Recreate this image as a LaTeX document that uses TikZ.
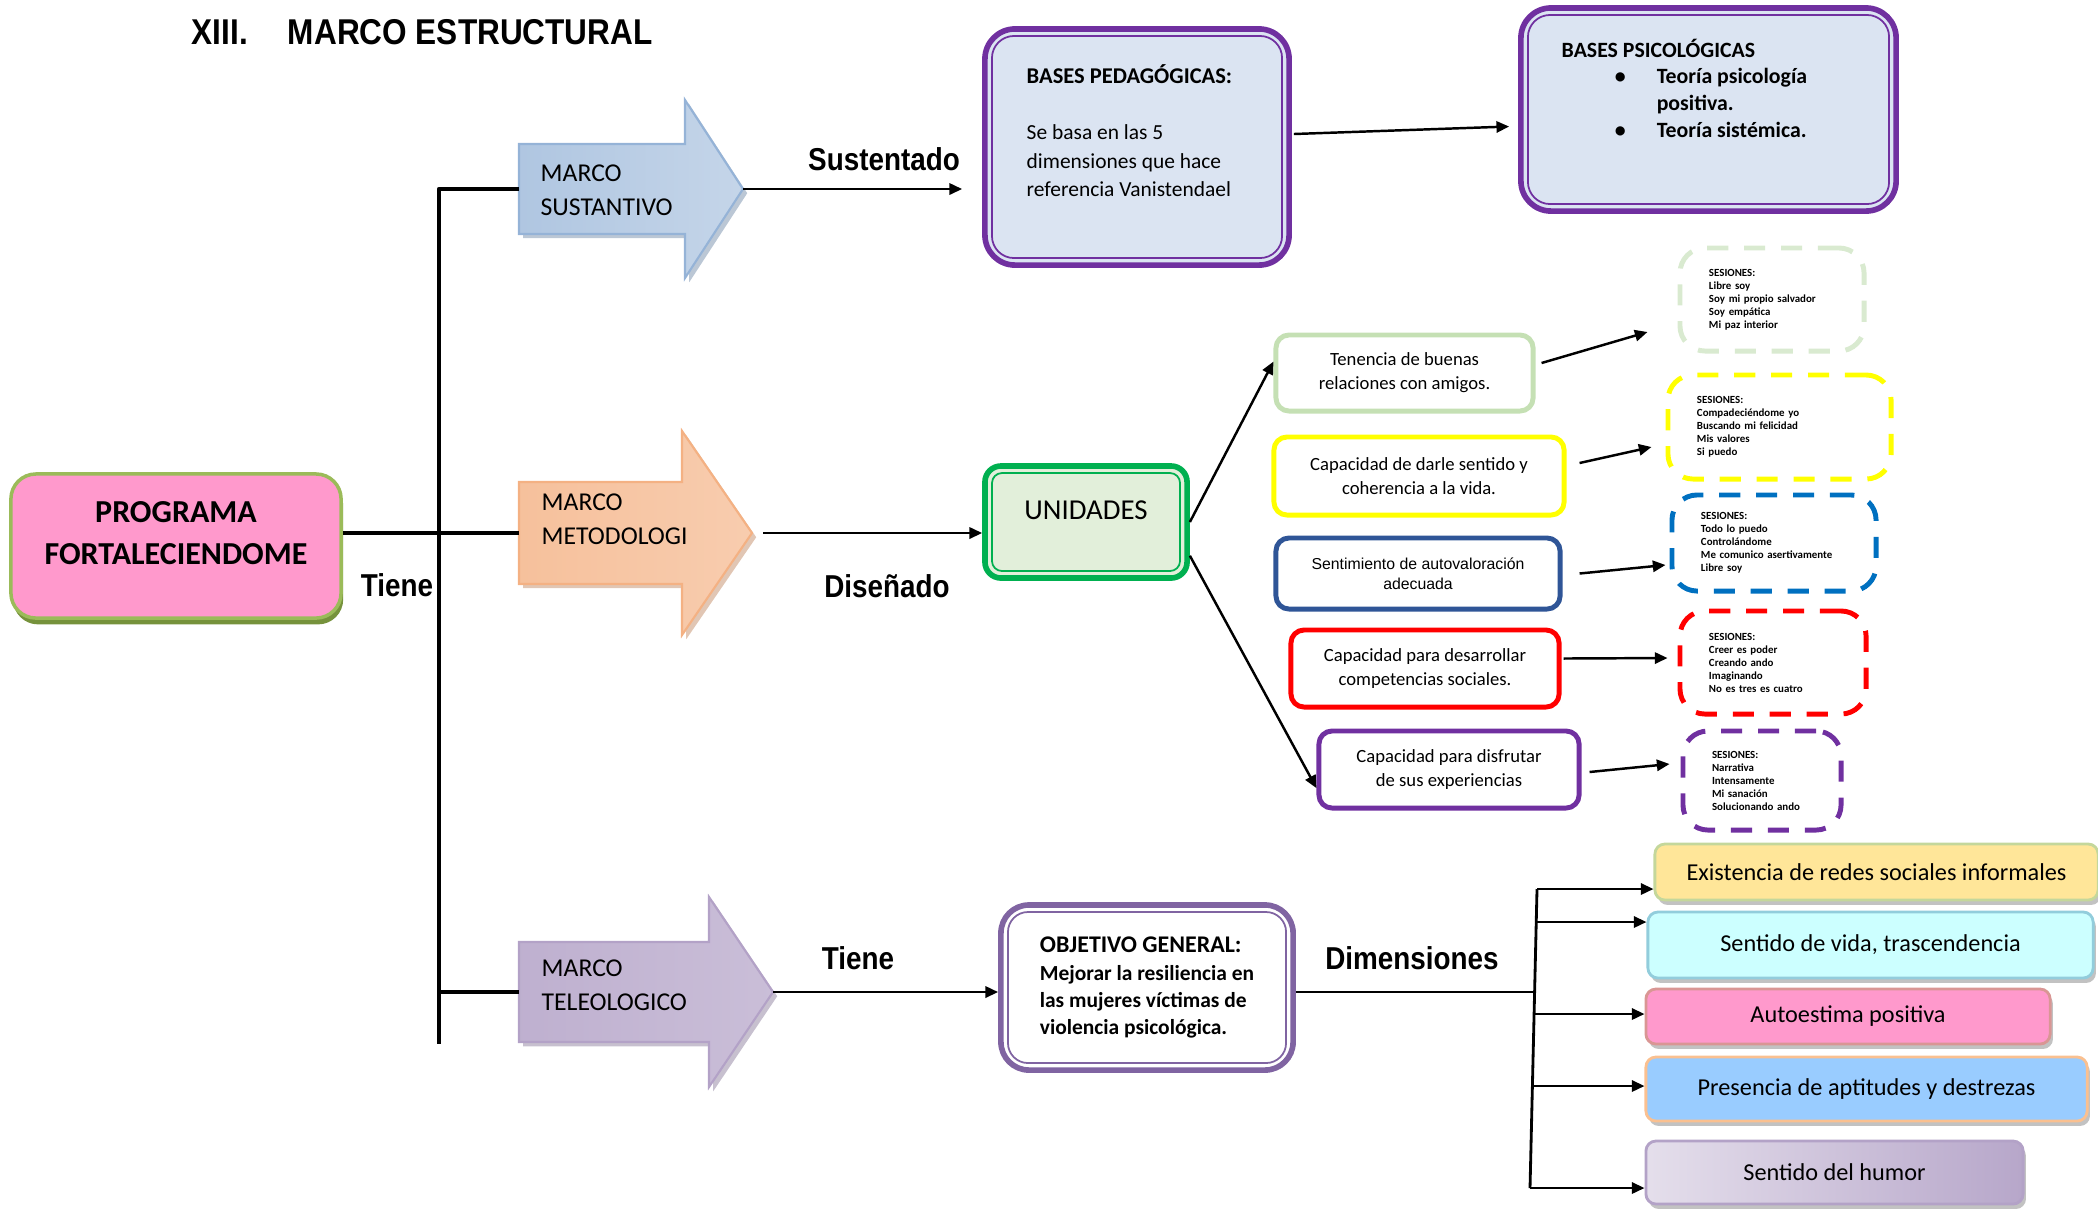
\documentclass[tikz,border=0pt]{standalone}
\usepackage{fontspec}
\setmainfont{Carlito}
\newfontfamily\arialfont{Liberation Sans}
\newfontfamily\narrowfont[FakeStretch=0.88]{Liberation Sans}
\usepackage{tikz}
\usetikzlibrary{arrows.meta, calc, shadows}
\definecolor{mcpurple}{HTML}{7030A0}
\definecolor{mcviolet}{HTML}{8064A2}
\definecolor{mcgreen}{HTML}{00B050}
\definecolor{mcpale}{HTML}{DBE4F2}
\definecolor{mcmint}{HTML}{E2EFDA}
\definecolor{mcpink}{HTML}{FF99CC}
\definecolor{mcolive}{HTML}{9BBB59}
\definecolor{mcmoss}{HTML}{76923C}
\definecolor{mcsky}{HTML}{95B3D7}
\definecolor{mcorange}{HTML}{F4B183}
\definecolor{mclilac}{HTML}{B3A2C7}
\definecolor{mcleaf}{HTML}{C5E0B4}
\definecolor{mcleafpale}{HTML}{D9EAD0}
\definecolor{mcyellow}{HTML}{FFFF00}
\definecolor{mcnavy}{HTML}{2F5597}
\definecolor{mcblue}{HTML}{0070C0}
\definecolor{mcred}{HTML}{FF0000}
\definecolor{mcsand}{HTML}{FFE699}
\definecolor{mcsandline}{HTML}{C4D79B}
\definecolor{mccyan}{HTML}{CCFFFF}
\definecolor{mccyanline}{HTML}{92CDDC}
\definecolor{mcrose}{HTML}{D99694}
\definecolor{mcazure}{HTML}{99CCFF}
\definecolor{mcpeach}{HTML}{FAC090}
\newcommand{\fsz}[2]{\fontsize{#1}{#2}\selectfont}

\begin{document}
\begin{tikzpicture}[
  x=0.01cm, y=-0.01cm,
  >={Triangle[length=3.6pt,width=3.2pt]},
  line join=round,
  link/.style={->, line width=0.7pt},
  trunk/.style={line width=1.2pt},
  lbl/.style={font=\narrowfont\bfseries\fsz{9}{10}, inner sep=0pt},
  blockarrow/.style={draw=#1, line width=0.6pt, line join=miter,
    drop shadow={shadow xshift=1.2pt, shadow yshift=-1.2pt, fill=#1!80!black, opacity=0.5}},
  mtext/.style={anchor=west, align=left, inner sep=0pt, font=\fsz{7.3}{9.7}},
  frame/.style={draw=#1, line width=1.6pt, rounded corners=0.3cm, inner sep=0pt},
  rim/.style={draw=#1, line width=0.5pt, rounded corners=0.22cm},
  unit/.style={draw=#1, line width=1.4pt, fill=white, rounded corners=0.13cm,
    align=center, inner sep=0pt, font=\fsz{5.3}{6.8}},
  sess/.style={draw=#1, line width=1.4pt, dash pattern=on 6pt off 4.5pt,
    rounded corners=0.25cm, fill=white, align=left, inner xsep=0.29cm, inner ysep=0pt,
    font=\bfseries\fsz{3.1}{3.7}},
  dim/.style={draw=#1, line width=0.8pt, rounded corners=0.1cm, inner sep=0pt,
    font=\fsz{6.9}{8},
    drop shadow={shadow xshift=0.8pt, shadow yshift=-1.4pt, fill=black!40, opacity=0.6}},
]
\useasboundingbox (0,0) rectangle (2098,1208);

\node[lbl, anchor=west, font=\narrowfont\bfseries\fsz{10.2}{12}] (titulo) at (191,32)
  {XIII.\hspace{11.4pt}MARCO ESTRUCTURAL};

% ----- programa and trunk -----
\node[draw=mcolive, line width=1pt, fill=mcpink, rounded corners=0.25cm,
      drop shadow={shadow xshift=0.6pt, shadow yshift=-1.8pt, fill=mcmoss, opacity=1},
      minimum width=3.30cm, minimum height=1.44cm, align=center,
      font=\bfseries\fsz{9.1}{12}] (prog) at (176,546) {PROGRAMA\\FORTALECIENDOME\\[-0.16cm]};
\node[lbl] (tiene1) at (397,585) {Tiene};

\path[blockarrow=mcsky, left color=mcsky!75, middle color=mcpale!80!white, right color=mcsky!55]
  (519,144) -- (685,144) -- (685,100) -- (743,189) -- (685,278) -- (685,234) -- (519,234) -- cycle;
\path[blockarrow=mcorange, left color=mcorange!80, middle color=mcorange!15, right color=mcorange!65]
  (519,482) -- (682,482) -- (682,431) -- (752,533) -- (682,635) -- (682,584) -- (519,584) -- cycle;
\path[blockarrow=mclilac, left color=mclilac!85, middle color=mclilac!22, right color=mclilac!70]
  (519,942) -- (709,942) -- (709,897) -- (773,992) -- (709,1087) -- (709,1042) -- (519,1042) -- cycle;
\coordinate (susTail) at (519,189);
\coordinate (susTip) at (743,189);
\coordinate (metTail) at (519,533);
\coordinate (metTip) at (752,533);
\coordinate (teoTail) at (519,992);
\coordinate (teoTip) at (773,992);
\node[mtext] (sus) at (540,190) {MARCO\\SUSTANTIVO};
\node[mtext] (met) at (541,519) {MARCO\\METODOLOGI};
\node[mtext] (teo) at (541,985) {MARCO\\TELEOLOGICO};

\coordinate (trunkTop) at (439,189);
\coordinate (trunkEnd) at (439,1044);
\draw[trunk] (susTail) -- (trunkTop) -- (trunkEnd);
\draw[trunk] (prog.east |- metTail) -- (metTail);
\draw[trunk] (teoTail -| trunkTop) -- (teoTail);

% ----- sustantivo: bases -----
\node[frame=mcpurple, fill=mcpale, minimum width=3.04cm, minimum height=2.36cm] (ped) at (1137,147) {};
\draw[rim=mcpurple] ($(ped.south west)+(2.8pt,2.8pt)$) rectangle ($(ped.north east)-(2.8pt,2.8pt)$);
\node[anchor=north west, align=left, inner sep=0pt, font=\fsz{6.1}{8}] (pedtxt) at (1026,64)
  {{\bfseries\fsz{6.4}{8}BASES PEDAGÓGICAS:}\\[8pt]Se basa en las 5\\dimensiones que hace\\referencia Vanistendael};

\node[frame=mcpurple, fill=mcpale, minimum width=3.75cm, minimum height=2.03cm] (psi) at (1708.5,109.5) {};
\draw[rim=mcpurple] ($(psi.south west)+(2.8pt,2.8pt)$) rectangle ($(psi.north east)-(2.8pt,2.8pt)$);
\node[anchor=north west, align=left, inner sep=0pt, font=\bfseries\fsz{6.2}{7.6}] (psitxt) at (1561,38)
  {BASES PSICOLÓGICAS\\
   \hspace*{0.53cm}\makebox[0.42cm][l]{\textbullet}Teoría psicología\\
   \hspace*{0.95cm}positiva.\\
   \hspace*{0.53cm}\makebox[0.42cm][l]{\textbullet}Teoría sistémica.};

\node[lbl] (sustentado) at (884,159) {Sustentado};
\draw[link] (susTip) -- ($(ped.west |- susTip)+(-20,0)$);
\draw[link] ($(ped.east)+(2,-13)$) -- ($(psi.west)+(-9,17)$);

% ----- metodologico: unidades -----
\node[frame=mcgreen, fill=mcmint, rounded corners=0.16cm, minimum width=2.02cm, minimum height=1.12cm,
      align=center, font=\fsz{8.2}{10}] (uni) at (1086,522) {UNIDADES\\[-0.11cm]};
\draw[rim=mcgreen, rounded corners=0.1cm] ($(uni.south west)+(2.8pt,2.8pt)$) rectangle ($(uni.north east)-(2.8pt,2.8pt)$);
\node[lbl] (disenado) at (887,586) {Diseñado};
\draw[link] ($(metTip)+(11,0)$) -- (uni.west |- metTip);

\node[unit=mcleaf, minimum width=2.57cm, minimum height=0.76cm] (ua) at (1404.5,373)
  {Tenencia de buenas\\relaciones con amigos.};
\node[unit=mcyellow, minimum width=2.90cm, minimum height=0.78cm] (ub) at (1419,476)
  {Capacidad de darle sentido y\\coherencia a la vida.};
\node[unit=mcnavy, font=\arialfont\fsz{4.5}{5.7}, minimum width=2.84cm, minimum height=0.71cm] (uc) at (1418,573.5)
  {Sentimiento de autovaloración\\adecuada};
\node[unit=mcred, minimum width=2.68cm, minimum height=0.77cm] (ud) at (1425,668.5)
  {Capacidad para desarrollar\\competencias sociales.};
\node[unit=mcpurple, minimum width=2.60cm, minimum height=0.77cm] (ue) at (1449,769.5)
  {Capacidad para disfrutar\\de sus experiencias};
\draw[link] (uni.east) -- (ua.175);
\draw[link] (uni.-18) -- (ue.188);

\node[sess=mcleafpale, text width=1.26cm, minimum height=1.03cm] (sa) at (1772,299.5)
  {SESIONES:\\Libre soy\\Soy mi propio salvador\\Soy empática\\Mi paz interior};
\node[sess=mcyellow, text width=1.65cm, minimum height=1.04cm] (sb) at (1779.5,427)
  {SESIONES:\\Compadeciéndome yo\\Buscando mi felicidad\\Mis valores\\Si puedo};
\node[sess=mcblue, text width=1.46cm, minimum height=0.96cm] (sc) at (1774,543)
  {SESIONES:\\Todo lo puedo\\Controlándome\\Me comunico asertivamente\\Libre soy};
\node[sess=mcred, text width=1.28cm, minimum height=1.03cm] (sd) at (1773,662.5)
  {SESIONES:\\Creer es poder\\Creando ando\\Imaginando\\No es tres es cuatro};
\node[sess=mcpurple, text width=1.00cm, minimum height=0.99cm] (se) at (1762,780.5)
  {SESIONES:\\Narrativa\\Intensamente\\Mi sanación\\Solucionando ando};
\draw[link] ($(ua.east)+(6,-10)$) -- ($(sa.west)+(-30,32.5)$);
\draw[link] ($(ub.east)+(13,-13)$) -- ($(sb.west)+(-14,20)$);
\draw[link] ($(uc.east)+(17,0)$) -- ($(sc.west)+(-4,22)$);
\draw[link] ($(ud.east)+(2,-10)$) -- ($(sd.west)+(-10,-4.5)$);
\draw[link] ($(ue.east)+(8,2.5)$) -- ($(se.west)+(-11,-16.5)$);

% ----- teleologico: objetivo y dimensiones -----
\node[frame=mcviolet, fill=white, rounded corners=0.28cm, minimum width=2.92cm, minimum height=1.65cm,
      align=left, font=\bfseries\fsz{6.1}{7.7}] (obj) at (1147,987.5)
  {{\fsz{6.8}{7.7}OBJETIVO GENERAL:}\\Mejorar la resiliencia en\\las mujeres víctimas de\\violencia psicológica.};
\draw[rim=mcviolet, rounded corners=0.2cm] ($(obj.south west)+(2.8pt,2.8pt)$) rectangle ($(obj.north east)-(2.8pt,2.8pt)$);
\node[lbl] (tiene2) at (858,958) {Tiene};
\node[lbl] (dimensiones) at (1412,958) {Dimensiones};
\draw[link] (teoTip) -- (obj.west |- teoTip);

\node[dim=mcsandline, fill=mcsand, minimum width=4.43cm, minimum height=0.56cm] (dim1) at (1876.5,872)
  {Existencia de redes sociales informales};
\node[dim=mccyanline, fill=mccyan, minimum width=4.45cm, minimum height=0.66cm] (dim2) at (1870.5,945)
  {Sentido de vida, trascendencia};
\node[dim=mcrose, fill=mcpink, minimum width=4.04cm, minimum height=0.55cm] (dim3) at (1848,1016.5)
  {Autoestima positiva};
\node[dim=mcpeach, fill=mcazure, minimum width=4.41cm, minimum height=0.64cm] (dim4) at (1866.5,1089)
  {Presencia de aptitudes y destrezas};
\node[dim=mclilac, left color=mclilac!35, middle color=mclilac!55, right color=mclilac!95,
      minimum width=3.77cm, minimum height=0.63cm] (dim5) at (1834.5,1172.5)
  {Sentido del humor};

\coordinate (b1) at (1537,889);
\coordinate (b2) at (1536,922);
\coordinate (bm) at (1535,992);
\coordinate (b3) at (1535,1014);
\coordinate (b4) at (1533,1086);
\coordinate (b5) at (1530,1188);
\draw[line width=0.8pt] (obj.east |- teoTip) -- (bm);
\draw[line width=0.8pt] (b1) -- (b5);
\draw[link] (b1) -- (dim1.west |- b1);
\draw[link] (b2) -- (dim2.west |- b2);
\draw[link] (b3) -- (dim3.west |- b3);
\draw[link] (b4) -- (dim4.west |- b4);
\draw[link] (b5) -- (dim5.west |- b5);
\end{tikzpicture}
\end{document}
